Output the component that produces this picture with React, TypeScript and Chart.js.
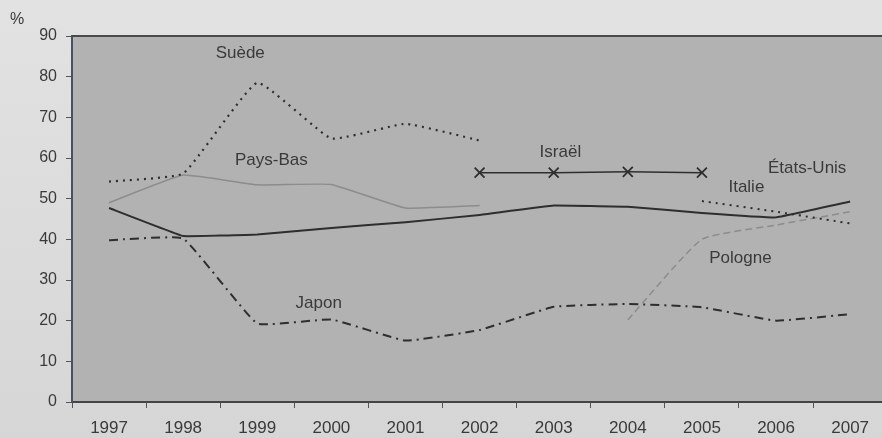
import { useEffect, useRef } from "react";
import { Chart, registerables } from "chart.js";
Chart.register(...registerables);

const years = ["1997", "1998", "1999", "2000", "2001", "2002", "2003", "2004", "2005", "2006", "2007"];
const etatsUnis = [47.7, 40.8, 41.2, 42.8, 44.2, 46.0, 48.3, 48.0, 46.5, 45.4, 49.3];
const suede = [54.2, 56.2, 78.5, 64.8, 68.4, 64.3, null, null, null, null, null];
const paysBas = [49.0, 55.8, 53.4, 53.5, 47.7, 48.3, null, null, null, null, null];
const japon = [39.8, 40.2, 19.3, 20.3, 15.1, 17.7, 23.4, 24.1, 23.3, 20.0, 21.6];
const israel = [null, null, null, null, null, 56.4, 56.4, 56.6, 56.4, null, null];
const italie = [null, null, null, null, null, null, null, null, 49.4, 46.8, 43.9];
const pologne = [null, null, null, null, null, null, null, 20.2, 40.0, 43.5, 46.8];

const yTicks = [0, 10, 20, 30, 40, 50, 60, 70, 80, 90];

const labelNames = ["Suède", "Pays-Bas", "Israël", "États-Unis", "Italie", "Pologne", "Japon"];
const labelX = [1.77, 2.19, 6.09, 9.42, 8.6, 8.52, 2.83];
const labelY = [85.8, 59.5, 61.5, 57.5, 52.8, 35.4, 24.3];

const TEXT = "#3a3a3a";
const FONT = "'Liberation Sans', Arial, sans-serif";

export default function App() {
  const ref = useRef<HTMLCanvasElement | null>(null);

  useEffect(() => {
    document.body.style.margin = "0";
    document.body.style.overflow = "hidden";
    const canvas = ref.current;
    if (!canvas) return;

    const decor = {
      id: "decor",
      beforeDraw(chart: any) {
        const { ctx, chartArea: a, width, height } = chart;
        ctx.save();
        const g = ctx.createLinearGradient(0, 0, 0, height);
        g.addColorStop(0, "#e2e2e2");
        g.addColorStop(1, "#d6d6d6");
        ctx.fillStyle = g;
        ctx.fillRect(0, 0, width, height);
        ctx.fillStyle = "#b2b2b2";
        ctx.fillRect(a.left, a.top, a.right - a.left, a.bottom - a.top);
        ctx.restore();
      },
      afterDraw(chart: any) {
        const { ctx, chartArea: a } = chart;
        const xs = chart.scales.x;
        const ys = chart.scales.y;
        ctx.save();
        ctx.strokeStyle = "#4a4a4a";
        ctx.lineWidth = 2;
        ctx.beginPath();
        ctx.moveTo(a.left, a.top);
        ctx.lineTo(a.right, a.top);
        ctx.stroke();
        ctx.fillStyle = TEXT;
        ctx.font = `17px ${FONT}`;
        ctx.textAlign = "center";
        ctx.textBaseline = "middle";
        const step = xs.getPixelForValue(1) - xs.getPixelForValue(0);
        labelNames.forEach((n, i) => {
          const px = xs.getPixelForValue(0) + labelX[i] * step;
          const py = ys.getPixelForValue(labelY[i]);
          ctx.fillText(n, px, py);
        });
        ctx.font = `16px ${FONT}`;
        ctx.textAlign = "left";
        ctx.fillText("%", 10, 20);
        ctx.restore();
      },
    };

    const dark = "#2e2e2e";
    const light = "#8c8c8c";

    const chart = new Chart(canvas, {
      type: "line",
      data: {
        labels: years,
        datasets: [
          { label: "États-Unis", data: etatsUnis, borderColor: dark, borderWidth: 2, pointRadius: 0, tension: 0.05 },
          { label: "Suède", data: suede, borderColor: dark, borderWidth: 2.2, borderDash: [2, 5], pointRadius: 0, tension: 0.12 },
          { label: "Pays-Bas", data: paysBas, borderColor: light, borderWidth: 1.5, pointRadius: 0, tension: 0.1 },
          { label: "Japon", data: japon, borderColor: dark, borderWidth: 2, borderDash: [9, 5, 2, 5], pointRadius: 0, tension: 0.1 },
          {
            label: "Israël", data: israel, borderColor: dark, borderWidth: 1.5,
            pointStyle: "crossRot", pointRadius: 7, pointBorderWidth: 1.8, pointBorderColor: dark, tension: 0,
          },
          { label: "Italie", data: italie, borderColor: dark, borderWidth: 2, borderDash: [2, 5], pointRadius: 0, tension: 0.1 },
          { label: "Pologne", data: pologne, borderColor: light, borderWidth: 1.5, borderDash: [7, 4], pointRadius: 0, tension: 0.15 },
        ] as any,
      },
      options: {
        animation: false,
        responsive: true,
        maintainAspectRatio: false,
        layout: { padding: { top: 36, right: 0, left: 0, bottom: 0 } },
        plugins: { legend: { display: false }, tooltip: { enabled: false } },
        scales: {
          x: {
            offset: true,
            grid: { offset: true, drawOnChartArea: false, drawTicks: true, tickLength: 6, color: "#555" },
            border: { color: "#444", width: 2 },
            ticks: { color: TEXT, font: { family: FONT, size: 17 }, padding: 10, maxRotation: 0, autoSkip: false },
            afterFit(s: any) { s.height = 36; s.paddingRight = 0; s.paddingLeft = 0; },
          },
          y: {
            min: 0,
            max: 90,
            afterBuildTicks(s: any) { s.ticks = yTicks.map((v) => ({ value: v })); },
            grid: { drawOnChartArea: false, drawTicks: true, tickLength: 6, color: "#555" },
            border: { color: "#4a5060", width: 2 },
            ticks: { color: TEXT, font: { family: FONT, size: 16 }, padding: 9 },
            afterFit(s: any) { s.width = 72; },
          },
        },
      },
      plugins: [decor],
    });
    return () => chart.destroy();
  }, []);

  return (
    <div style={{ position: "fixed", left: 0, top: 0, width: 896, height: 438 }}>
      <canvas ref={ref} style={{ width: "100%", height: "100%" }} />
    </div>
  );
}
